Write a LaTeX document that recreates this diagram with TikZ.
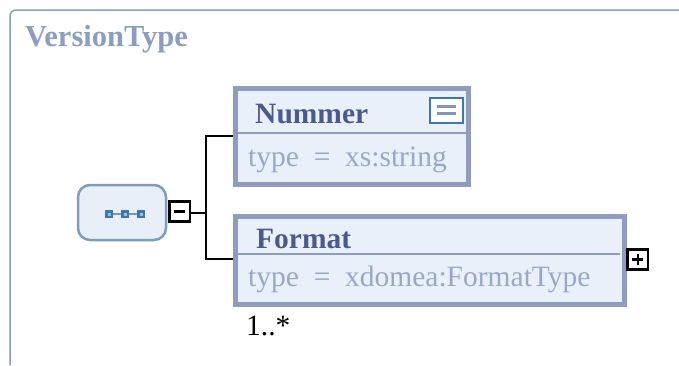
\documentclass[tikz,border=0pt]{standalone}
\usepackage{fontspec}
\setmainfont{Liberation Serif}
\definecolor{frame}{HTML}{8C9BB8}
\definecolor{titlec}{HTML}{8B9DC0}
\definecolor{boxb}{HTML}{8E9DBE}
\definecolor{boxf}{HTML}{EAF0FA}
\definecolor{namec}{HTML}{4A5A8C}
\definecolor{typec}{HTML}{98A8C8}
\definecolor{seqb}{HTML}{7F9CBD}
\definecolor{seqf}{HTML}{E8EFF8}
\definecolor{iconb}{HTML}{3B78AE}
\definecolor{iconl}{HTML}{7F95BC}
\tikzset{
  elbox/.style={draw=boxb, line width=5pt, fill=boxf},
  sep/.style={draw=boxb, line width=2.5pt},
  namet/.style={font=\fontsize{29.5}{31}\selectfont\bfseries, text=namec, anchor=base west, inner sep=0pt},
  typet/.style={font=\fontsize{29.5}{31}\selectfont, text=typec, anchor=base west, inner sep=0pt},
  conn/.style={draw=black, line width=2.5pt},
  tog/.style={draw=black, line width=2.8pt, fill=white, minimum size=0pt, inner sep=0pt},
}
\begin{document}
\begin{tikzpicture}[x=1pt,y=-1pt]
\useasboundingbox (0,0) rectangle (679,365);
% outer frame
\draw[frame, line width=1.5pt, rounded corners=6pt] (10,365) -- (10,10) -- (679,10);
\node[font=\fontsize{30.5}{32}\selectfont\bfseries, text=titlec, anchor=base west, inner sep=0pt] (title) at (25,46) {VersionType};

% sequence box
\draw[draw=seqb, fill=seqf, line width=2.5pt, rounded corners=12pt] (78,185) rectangle (166,240);
\coordinate (seqc) at (125,214);
\draw[iconl, line width=2pt] (109,214) -- (141,214);
\foreach \xx in {109,125,141}{
  \fill[iconb] (\xx-4,210) rectangle (\xx+4,218);
  \fill[iconb!50!white] (\xx-1.5,212.5) rectangle (\xx+1.5,215.5);
}
% minus toggle
\draw[tog] (169.5,201.5) rectangle (190,221.5);
\draw[black, line width=2.5pt] (174,211.5) -- (185,211.5);
\coordinate (mr) at (190,213);
\coordinate (bj) at (206,213);
\coordinate (bt) at (206,136);
\coordinate (bb) at (206,259);
\coordinate (nl) at (234,136);
\coordinate (fl) at (234,259);
\draw[conn] (mr) -- (bj);
\draw[conn] (nl) -- (bt) -- (bb) -- (fl);

% Nummer
\draw[elbox] (235.5,88.5) rectangle (468.5,184.5);
\draw[sep] (238,133) -- (466,133);
\node[namet] (nummer) at (255,123) {Nummer};
\node[typet] (nummertype) at (248,166) {type\ \ =\ \ xs:string};
\draw[draw=iconb, fill=white, line width=2.5pt] (430,98) rectangle (463,123);
\draw[iconl, line width=2.5pt] (437,106.5) -- (456,106.5);
\draw[iconl, line width=2.5pt] (437,113.5) -- (456,113.5);

% Format
\draw[elbox] (235.5,216) rectangle (624.5,304.5);
\draw[sep] (238,254) -- (620,254);
\node[namet] (format) at (256,248) {Format};
\node[typet] (formattype) at (248,286) {type\ \ =\ \ xdomea:FormatType};
\draw[tog] (627.5,249.5) rectangle (648,269.5);
\draw[black, line width=2.2pt] (632,259.5) -- (643,259.5);
\draw[black, line width=2.2pt] (637.7,254) -- (637.7,265);
\node[font=\fontsize{29.5}{31}\selectfont, anchor=base west, inner sep=0pt] (mult) at (246,335) {1..*};
\end{tikzpicture}
\end{document}
